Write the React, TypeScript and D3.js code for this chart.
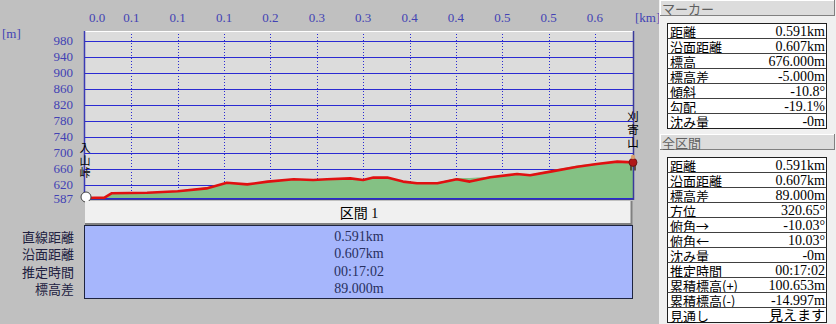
import React from 'react';
import * as d3 from 'd3';

// ---- data ----
const distKm = [0, 0.021, 0.029, 0.067, 0.100, 0.131, 0.153, 0.175, 0.197, 0.225, 0.246, 0.261, 0.286, 0.300, 0.311, 0.326, 0.343, 0.358, 0.380, 0.401, 0.415, 0.437, 0.466, 0.480, 0.502, 0.531, 0.552, 0.574, 0.591];
const routeElev = [587, 588, 599, 600, 604, 611, 625, 621, 628, 634, 632, 634, 636, 632, 638, 638, 628, 624, 624, 634, 628, 639, 647, 644, 653, 665, 672, 678, 676];
const groundElev = [587, 589, 597, 600, 605, 614, 626, 622, 628, 634, 633, 634, 636, 633, 639, 638, 629, 625, 626, 637, 637, 640, 647, 646, 656, 668, 674, 679, 678];

const xTickValues = [0, 0.05, 0.10, 0.15, 0.20, 0.25, 0.30, 0.35, 0.40, 0.45, 0.50, 0.55];
const xTickLabels = ['0.0', '0.1', '0.1', '0.1', '0.2', '0.3', '0.3', '0.4', '0.4', '0.5', '0.5', '0.6'];
const yTickValues = [587, 620, 660, 700, 740, 780, 820, 860, 900, 940, 980];

const startName = ['入', '山', '峠'];
const endName = ['刈', '寄', '山'];

const sectionTitle = '区間 1';
const sectionLabels = ['直線距離', '沿面距離', '推定時間', '標高差'];
const sectionValues = ['0.591km', '0.607km', '00:17:02', '89.000m'];

const markerLabels = ['距離', '沿面距離', '標高', '標高差', '傾斜', '勾配', '沈み量'];
const markerValues = ['0.591km', '0.607km', '676.000m', '-5.000m', '-10.8°', '-19.1%', '-0m'];

const totalLabels = ['距離', '沿面距離', '標高差', '方位', '俯角→', '俯角←', '沈み量', '推定時間', '累積標高(+)', '累積標高(-)', '見通し'];
const totalValues = ['0.591km', '0.607km', '89.000m', '320.65°', '-10.03°', '10.03°', '-0m', '00:17:02', '100.653m', '-14.997m', '見えます'];

// ---- layout ----
const W = 836, H = 324;
const PL = 85, PR = 633, PT = 31, PB = 198;
const FONT = '"Liberation Serif", "Noto Sans CJK JP", serif';
const JFONT = '"Noto Sans CJK JP", sans-serif';
const AXC = '#4242b4';
const GRID = '#2a2ad2';

function InfoTable({ title, top, labels, values }: { title: string; top: number; labels: string[]; values: string[] }) {
  const rowH = 15;
  const tTop = top + 23;
  return (
    <g>
      <rect x={660} y={top} width={175} height={16} fill="#dcdcdc" />
      <line x1={660} y1={top + 0.5} x2={835} y2={top + 0.5} stroke="#ffffff" />
      <line x1={660.5} y1={top} x2={660.5} y2={top + 16} stroke="#ffffff" />
      <line x1={660} y1={top + 15.5} x2={835} y2={top + 15.5} stroke="#808080" />
      <line x1={834.5} y1={top} x2={834.5} y2={top + 16} stroke="#808080" />
      <text x={662} y={top + 8.5} dominantBaseline="central" fontFamily={JFONT} fontSize={13} fill="#606060">{title}</text>
      <rect x={667.5} y={tTop + 0.5} width={159} height={labels.length * rowH} fill="#ffffff" stroke="#202020" />
      {labels.map((l, i) => (
        <g key={i}>
          {i > 0 && <line x1={667.5} y1={tTop + i * rowH + 0.5} x2={826.5} y2={tTop + i * rowH + 0.5} stroke="#404040" />}
          <text x={670} y={tTop + i * rowH + 8} dominantBaseline="central" fontFamily={JFONT} fontSize={13} fill="#000">{l}</text>
          <text x={825} y={tTop + i * rowH + 8} dominantBaseline="central" textAnchor="end" fontFamily={FONT} fontSize={14} fill="#000">{values[i]}</text>
        </g>
      ))}
    </g>
  );
}

export default function App() {
  const x = d3.scaleLinear().domain([0, 0.591]).range([PL, PR]);
  const y = d3.scaleLinear().domain([587, 1004.5]).range([PB, PT]);
  const routePts = distKm.map((d, i) => [d, routeElev[i]] as [number, number]);
  const groundPts = distKm.map((d, i) => [d, groundElev[i]] as [number, number]);
  const area = d3.area<[number, number]>().x(d => x(d[0])).y0(y(587)).y1(d => y(d[1]));
  const line = d3.line<[number, number]>().x(d => x(d[0])).y(d => y(d[1]));
  const endX = x(distKm[distKm.length - 1]);
  const endY = y(routeElev[routeElev.length - 1]);
  const startX = x(0), startY = y(routeElev[0]);
  const tableMid = (PL + PR) / 2;

  return (
    <svg width={W} height={H} style={{ position: 'absolute', left: 0, top: 0 }}>
      <rect x={0} y={0} width={W} height={H} fill="#c0c0c0" />
      {/* plot background */}
      <rect x={PL} y={PT} width={PR - PL} height={PB - PT + 1} fill="#dcdcdc" />
      {/* horizontal grid */}
      {yTickValues.map((v, i) => (
        <line key={'h' + i} x1={PL} x2={PR} y1={Math.round(y(v)) + 0.5} y2={Math.round(y(v)) + 0.5} stroke={GRID} strokeWidth={1.2} />
      ))}
      {/* vertical dotted grid */}
      {xTickValues.slice(1).map((v, i) => (
        <line key={'v' + i} x1={Math.round(x(v)) + 0.5} x2={Math.round(x(v)) + 0.5} y1={PT} y2={PB} stroke={GRID} strokeWidth={1} strokeDasharray="1,2" />
      ))}
      {/* ground area and route line */}
      <path d={area(groundPts) || ''} fill="#84c184" />
      <path d={line(routePts) || ''} fill="none" stroke="#e01010" strokeWidth={2.6} strokeLinejoin="round" />
      {/* plot frame */}
      <line x1={PL} x2={PR + 1} y1={PT + 0.5} y2={PT + 0.5} stroke="#ffffff" />
      <line x1={PL - 0.5} x2={PL - 0.5} y1={PT} y2={PB + 2} stroke="#3a3ab4" strokeWidth={1.5} />
      <line x1={PR + 0.5} x2={PR + 0.5} y1={PT} y2={PB + 2} stroke="#3a3a9a" strokeWidth={1.5} />
      <line x1={PL - 1} x2={PR + 1} y1={PB + 1.5} y2={PB + 1.5} stroke="#3a3a9a" strokeWidth={1} />

      {/* axis labels */}
      <text x={2} y={33} dominantBaseline="central" fontFamily={FONT} fontSize={13} fill={AXC}>[m]</text>
      <text x={635} y={17} dominantBaseline="central" fontFamily={FONT} fontSize={13} fill={AXC}>[km]</text>
      {xTickValues.map((v, i) => (
        <text key={'xt' + i} x={i === 0 ? x(v) + 12 : x(v)} y={17} dominantBaseline="central" textAnchor="middle" fontFamily={FONT} fontSize={13} fill={AXC}>{xTickLabels[i]}</text>
      ))}
      {yTickValues.map((v, i) => (
        <text key={'yt' + i} x={73} y={y(v)} dominantBaseline="central" textAnchor="end" fontFamily={FONT} fontSize={13} fill={AXC}>{v}</text>
      ))}

      {/* place names */}
      {startName.map((c, i) => (
        <text key={'s' + i} x={startX} y={147 + i * 12.5} dominantBaseline="central" textAnchor="middle" fontFamily={JFONT} fontSize={11} fill="#000">{c}</text>
      ))}
      {endName.map((c, i) => (
        <text key={'e' + i} x={endX} y={116 + i * 13} dominantBaseline="central" textAnchor="middle" fontFamily={JFONT} fontSize={11.5} fill="#000">{c}</text>
      ))}
      {/* start point */}
      <circle cx={startX + 1} cy={startY - 1} r={5} fill="#ffffff" stroke="#404040" strokeWidth={1} />
      {/* marker figure */}
      <g>
        <line x1={endX - 2} x2={endX - 2} y1={endY + 2} y2={endY + 8} stroke="#403020" strokeWidth={1.5} />
        <line x1={endX + 2} x2={endX + 2} y1={endY + 2} y2={endY + 8} stroke="#403020" strokeWidth={1.5} />
        <ellipse cx={endX} cy={endY} rx={4} ry={4} fill="#b01818" stroke="#601010" strokeWidth={0.8} />
        <circle cx={endX} cy={endY - 5.5} r={2.2} fill="#d8a070" />
      </g>

      {/* section header */}
      <rect x={PL} y={201} width={PR - PL - 1} height={24} fill="#f0f0f0" />
      <line x1={PL} x2={PR - 1} y1={224} y2={224} stroke="#808080" strokeWidth={2} />
      <line x1={PR - 1.5} x2={PR - 1.5} y1={201} y2={225} stroke="#808080" strokeWidth={2} />
      <text x={tableMid} y={213} dominantBaseline="central" textAnchor="middle" fontFamily={FONT} fontSize={14} fill="#000">{sectionTitle}</text>
      {/* section table */}
      <rect x={PL - 0.5} y={225.5} width={PR - PL} height={73} fill="#a6b6fc" stroke="#1e2440" strokeWidth={1} />
      {sectionLabels.map((l, i) => (
        <g key={'sec' + i}>
          <text x={74} y={236 + i * 17.6} dominantBaseline="central" textAnchor="end" fontFamily={JFONT} fontSize={13} fill="#202040">{l}</text>
          <text x={tableMid} y={236 + i * 17.6} dominantBaseline="central" textAnchor="middle" fontFamily={FONT} fontSize={14} fill="#283060">{sectionValues[i]}</text>
        </g>
      ))}

      {/* right panel */}
      <rect x={659} y={0} width={W - 659} height={H} fill="#f0f0f0" />
      <InfoTable title="マーカー" top={0} labels={markerLabels} values={markerValues} />
      <InfoTable title="全区間" top={134} labels={totalLabels} values={totalValues} />
    </svg>
  );
}
